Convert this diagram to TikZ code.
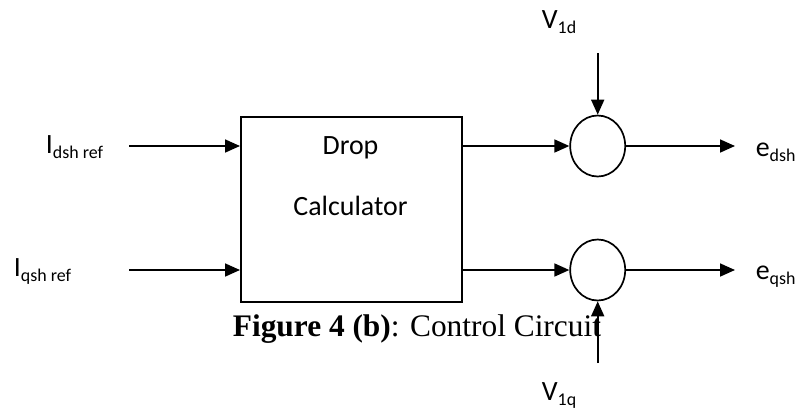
\documentclass[tikz,border=0pt]{standalone}
\usepackage{fontspec}
\setmainfont{Carlito}
\newfontfamily\capfont{Liberation Serif}
\usetikzlibrary{arrows.meta,shapes.geometric}
\newcommand\lsub[1]{\raisebox{-5bp}{\fontsize{18}{20}\selectfont #1}}
\begin{document}
\begin{tikzpicture}[x=1bp,y=-1bp, line width=1.7bp,
  arr/.style={-{Triangle[length=15bp,width=13bp]}},
  lbl/.style={inner sep=0, font=\fontsize{28}{34}\selectfont},
  sumnode/.style={draw, ellipse, minimum width=55bp, minimum height=61bp, inner sep=0}]
\useasboundingbox (0,0) rectangle (799,410);
% block
\node[draw, minimum width=221bp, minimum height=185bp, anchor=north west, inner sep=0] (box) at (240,116) {};
\node[lbl, anchor=base] (drop) at (350.5,154) {Drop};
\node[lbl, anchor=base] (calc) at (350.5,215) {Calculator};
% summing junctions
\node[sumnode] (s1) at (597.7,146) {};
\node[sumnode] (s2) at (597.7,270) {};
% inputs
\coordinate (in1) at (129,146);
\coordinate (in2) at (129,270);
\draw[arr] (in1) -- (box.west |- in1);
\draw[arr] (in2) -- (box.west |- in2);
\node[lbl, anchor=base west] (ld) at (45,153) {I\lsub{dsh ref}};
\node[lbl, anchor=base west] (lq) at (13,276) {I\lsub{qsh ref}};
% box to junctions
\draw[arr] (box.east |- s1) -- (s1.west);
\draw[arr] (box.east |- s2) -- (s2.west);
% outputs
\coordinate (o1) at (735,146);
\coordinate (o2) at (735,270);
\draw[arr] (s1.east) -- (o1);
\draw[arr] (s2.east) -- (o2);
\node[lbl, anchor=base west] (ed) at (755,156) {e\lsub{dsh}};
\node[lbl, anchor=base west] (eq) at (755,279) {e\lsub{qsh}};
% voltages
\coordinate (v1) at (597.7,53);
\coordinate (v2) at (597.7,363);
\draw[arr] (v1) -- (s1.north);
\draw[arr] (v2) -- (s2.south);
\node[lbl, anchor=base west] (vd) at (541,28) {V\lsub{1d}};
\node[lbl, anchor=base west] (vq) at (541,400) {V\lsub{1q}};
% caption
\node[inner sep=0, anchor=base west, font=\capfont\fontsize{31.5}{36}\selectfont] (cap) at (232,336) {\textbf{Figure 4 (b)}: Control Circuit};
\end{tikzpicture}
\end{document}
